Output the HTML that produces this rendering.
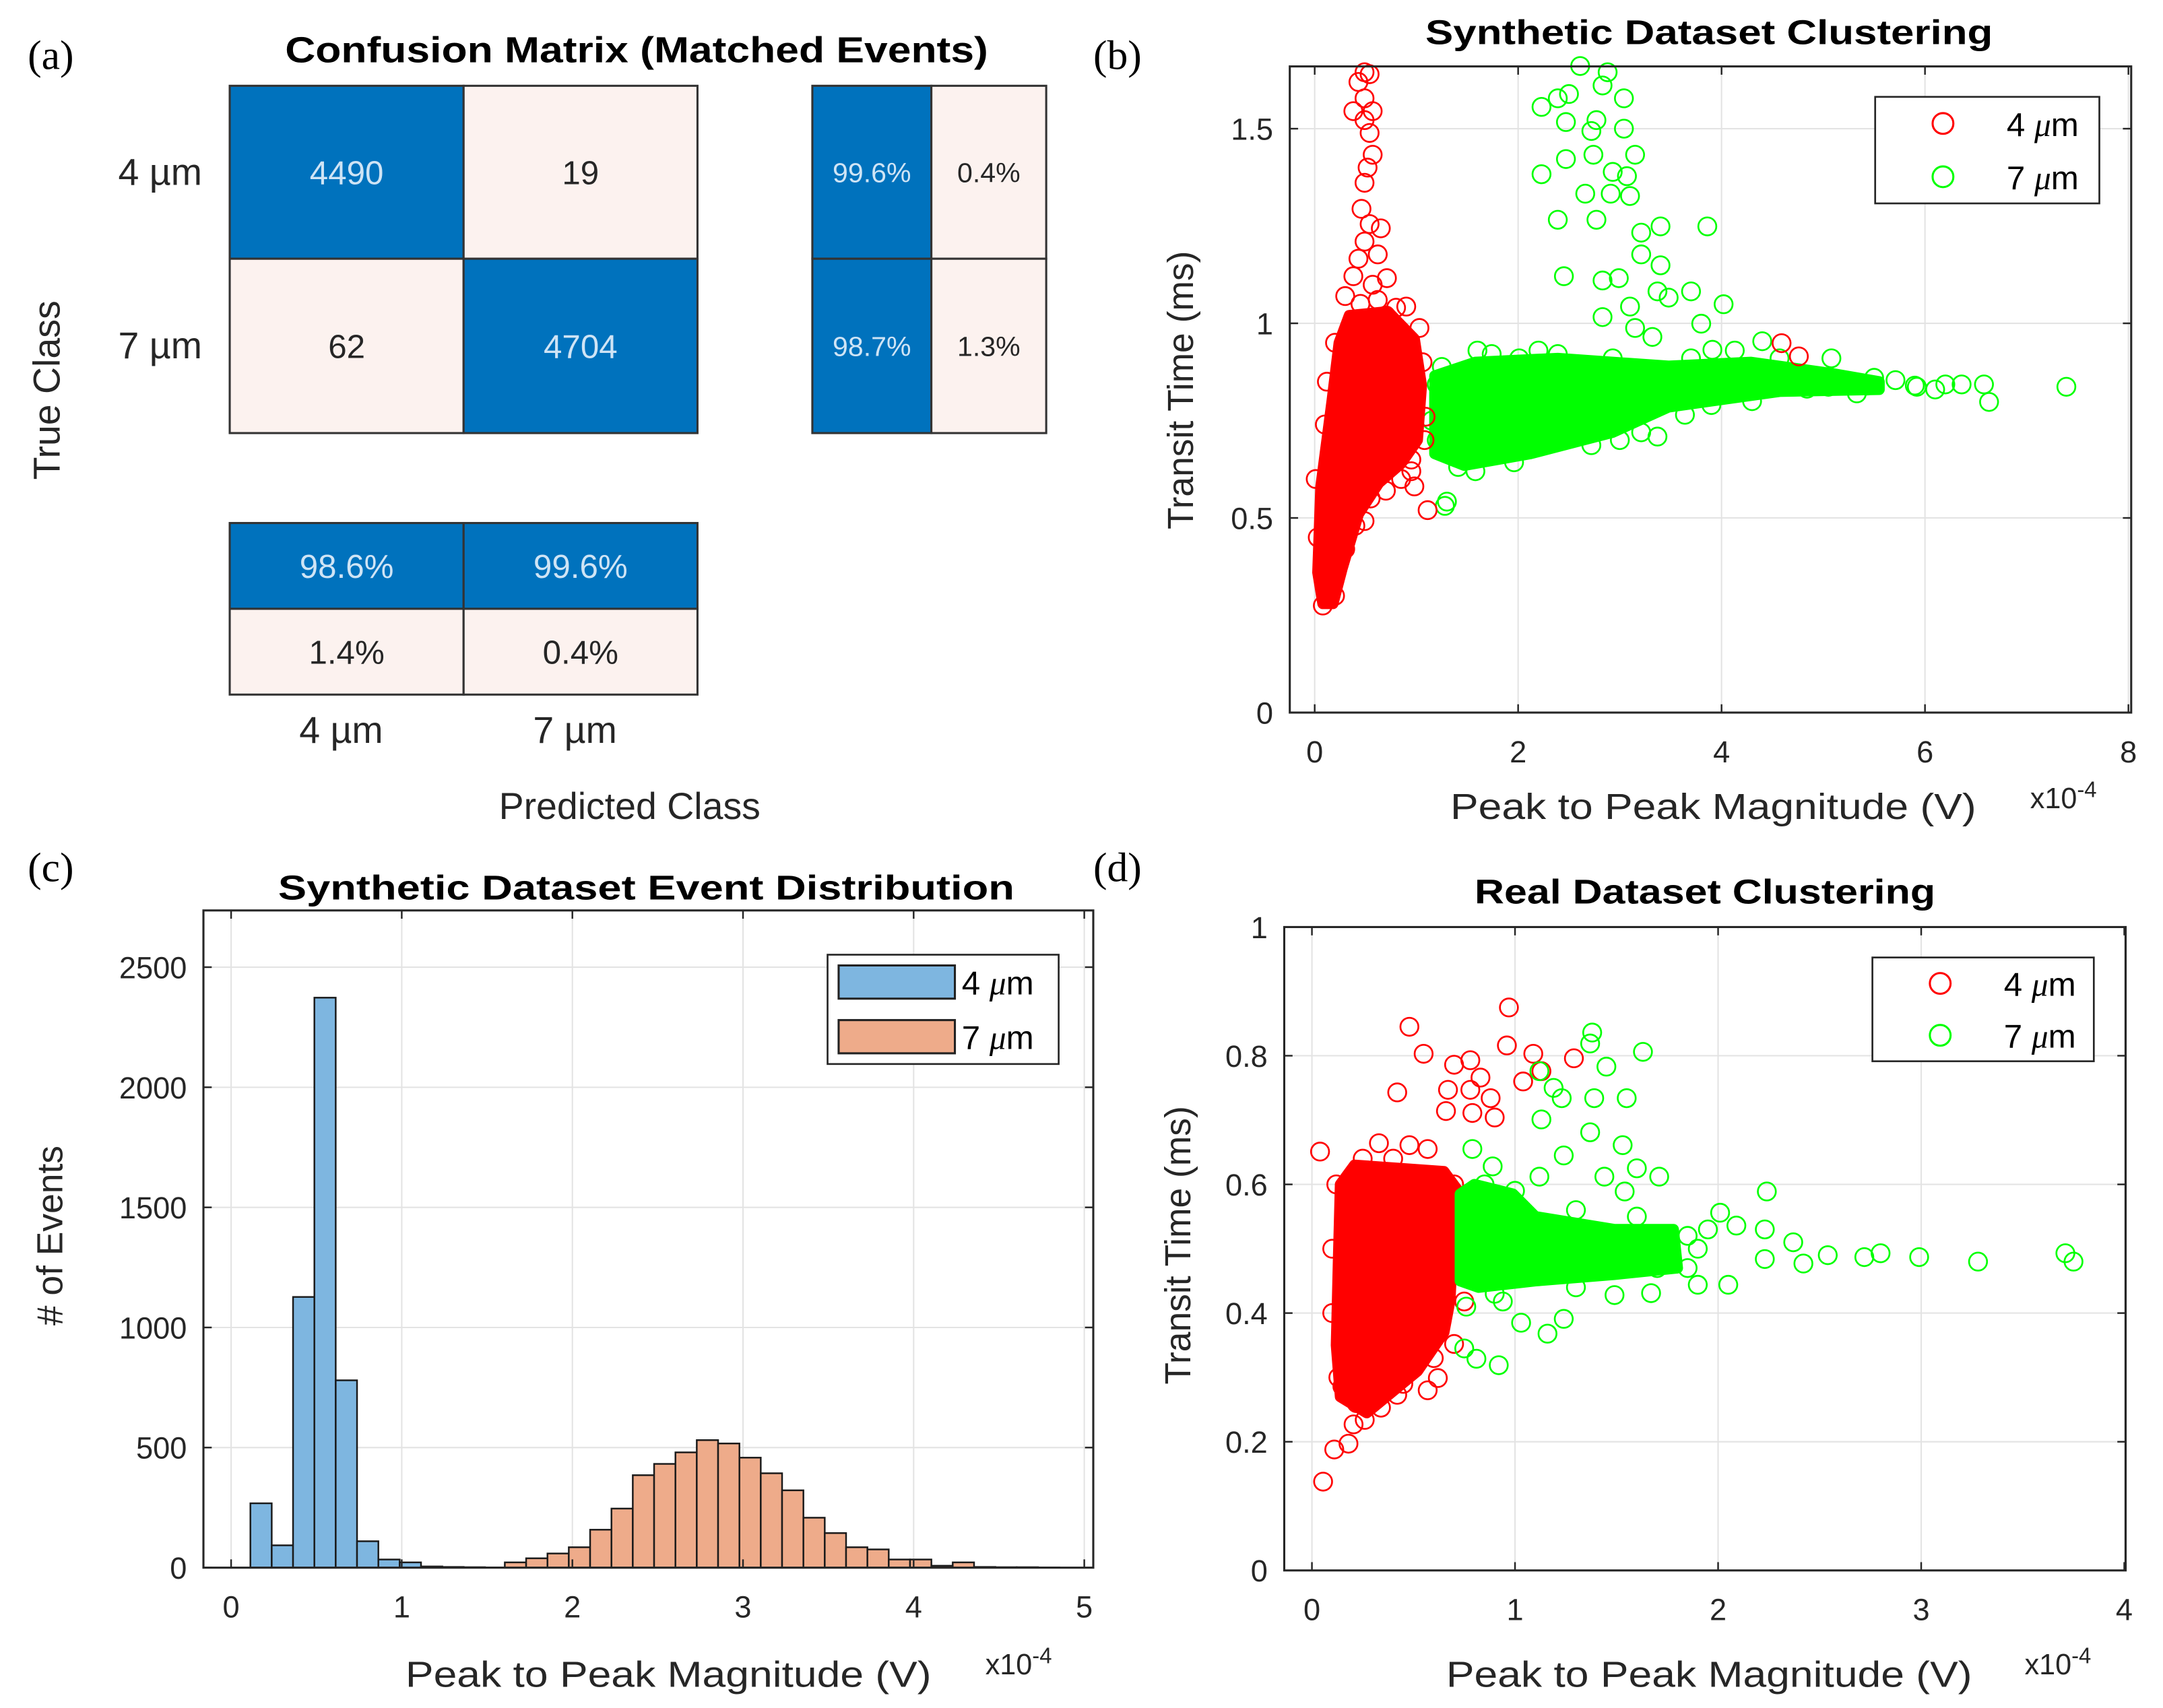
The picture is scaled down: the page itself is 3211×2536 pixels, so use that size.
<!DOCTYPE html>
<html><head><meta charset="utf-8"><style>
html,body{margin:0;padding:0;background:#fff}
svg{display:block}
text{font-family:"Liberation Sans",sans-serif}
.t{font-weight:bold}
.pl{font-family:"Liberation Serif",serif}
</style></head><body>
<svg id="fig" width="3211" height="2536" viewBox="0 0 3211 2536" xmlns="http://www.w3.org/2000/svg">
<g id="root" transform="scale(2.0544)"></g>
</svg>
<script>
// ---------- DATA ----------
const cmClasses=["4 µm","7 µm"];
const cmCounts=[[4490,19],[62,4704]];
const cmRowPct=[["99.6%","0.4%"],["98.7%","1.3%"]];
const cmColPct=[["98.6%","99.6%"],["1.4%","0.4%"]];

const bTicksX=[0,2,4,6,8];
const bTicksY=[0,0.5,1,1.5];
const bRedHull=[0.08,0.28, 0.03,0.36, 0.06,0.58, 0.17,0.80, 0.24,0.95, 0.34,1.02, 0.72,1.03, 0.98,0.96, 1.05,0.84, 1.01,0.70, 0.85,0.64, 0.63,0.59, 0.43,0.51, 0.27,0.37, 0.18,0.28];
const bRedPts=[0.49,1.645,0.54,1.64,0.43,1.62,0.49,1.578,0.38,1.545,0.57,1.545,0.49,1.522,0.54,1.489,0.57,1.433,0.52,1.40,0.49,1.361,0.46,1.294,0.54,1.255,0.65,1.244,0.49,1.21,0.62,1.177,0.43,1.166,0.38,1.121,0.71,1.116,0.57,1.099,0.90,1.043,1.03,0.988,0.98,0.798,0.92,0.709,0.95,0.62,0.98,0.581,1.11,0.52,0.49,0.492,0.08,0.275,0.11,0.308,4.59,0.949,4.76,0.915,0.30,1.07,0.62,1.06,1.06,0.90,1.09,0.76,0.03,0.45,0.01,0.60,0.10,0.74,0.70,1.02,0.85,0.60,0.55,0.55,0.30,0.42,0.20,0.30,0.45,1.05,0.80,1.04,1.08,0.70,0.95,0.65,0.12,0.85,0.20,0.95,0.70,0.57,0.40,0.48];
const bGreenHull=[1.18,0.865, 1.58,0.9, 2.39,0.91, 3.48,0.89, 4.29,0.9, 5.11,0.87, 5.55,0.85, 5.55,0.83, 4.57,0.825, 3.48,0.785, 2.93,0.72, 2.12,0.665, 1.47,0.635, 1.18,0.665];
const bGreenPts=[2.61,1.661,2.88,1.645,2.83,1.611,2.50,1.589,2.23,1.556,2.39,1.578,3.04,1.578,2.47,1.517,2.77,1.522,2.72,1.494,3.04,1.50,2.74,1.433,3.15,1.433,2.47,1.422,2.23,1.383,2.93,1.389,3.07,1.378,2.66,1.333,2.91,1.333,3.10,1.327,2.39,1.266,2.77,1.266,3.21,1.233,3.40,1.249,3.86,1.249,3.21,1.177,3.40,1.149,2.45,1.121,2.83,1.11,2.99,1.116,3.37,1.082,3.70,1.082,4.02,1.049,3.10,1.043,3.48,1.066,2.83,1.016,3.80,0.999,3.15,0.988,3.32,0.965,1.28,0.531,1.30,0.542,7.39,0.837,6.63,0.798,6.58,0.843,6.36,0.843,5.92,0.837,6.20,0.843,5.05,0.837,5.08,0.91,4.40,0.954,3.91,0.932,3.70,0.91,3.37,0.709,3.64,0.765,1.20,0.843,1.25,0.888,5.43,0.84,5.71,0.854,5.33,0.82,4.84,0.832,4.57,0.91,4.13,0.93,1.30,0.687,1.41,0.631,1.58,0.62,1.96,0.643,2.72,0.687,3.21,0.72,1.74,0.921,2.39,0.921,2.01,0.91,2.93,0.91,1.15,0.75,5.5,0.86,4.9,0.86,4.3,0.8,1.2,0.70,1.6,0.93,2.2,0.93,3.0,0.70,3.9,0.79,4.7,0.86,5.2,0.85,5.9,0.84,6.1,0.83];

const cTicksX=[0,1,2,3,4,5];
const cTicksY=[0,500,1000,1500,2000,2500];
const blueStart=0.113, blueWidth=0.125;
const blueCounts=[268,93,1127,2373,780,110,34,22,5,3,2,1];
const orangeStart=1.604, orangeWidth=0.125;
const orangeCounts=[22,39,59,85,158,246,385,432,480,531,517,458,393,322,208,144,85,76,34,34,8,22,3,2,2,1];

const dTicksX=[0,1,2,3,4];
const dTicksY=[0,0.2,0.4,0.6,0.8,1];
const dRedHull=[0.14,0.60, 0.21,0.63, 0.65,0.62, 0.72,0.59, 0.70,0.55, 0.68,0.42, 0.65,0.37, 0.52,0.31, 0.27,0.245, 0.14,0.27, 0.12,0.35, 0.13,0.48];
const dRedPts=[0.04,0.651,0.055,0.138,0.11,0.188,0.18,0.197,0.205,0.227,0.26,0.234,0.34,0.253,0.42,0.273,0.57,0.28,0.62,0.299,0.48,0.845,0.55,0.803,0.97,0.875,0.96,0.816,0.42,0.743,0.70,0.786,0.78,0.793,0.83,0.766,0.67,0.747,0.78,0.747,0.88,0.734,0.66,0.714,0.79,0.711,0.90,0.704,1.09,0.803,1.13,0.776,1.04,0.76,1.29,0.796,0.33,0.664,0.48,0.661,0.57,0.655,0.15,0.286,0.75,0.418,0.70,0.352,0.12,0.60,0.10,0.40,0.13,0.30,0.70,0.60,0.72,0.47,0.10,0.50,0.22,0.26,0.45,0.29,0.60,0.33,0.40,0.64,0.25,0.64];
const dGreenHull=[0.73,0.585, 0.80,0.60, 0.99,0.585, 1.10,0.55, 1.49,0.53, 1.78,0.53, 1.80,0.47, 1.49,0.46, 1.10,0.45, 0.82,0.44, 0.73,0.45];
const dGreenPts=[1.38,0.836,1.37,0.819,1.63,0.806,1.45,0.783,1.12,0.776,1.19,0.75,1.23,0.734,1.39,0.734,1.55,0.734,1.13,0.701,1.37,0.681,1.53,0.661,1.24,0.645,1.12,0.612,1.44,0.612,1.60,0.625,1.71,0.612,1.54,0.589,2.24,0.589,0.79,0.655,0.89,0.628,2.01,0.556,2.09,0.536,2.23,0.53,2.37,0.51,2.54,0.49,2.72,0.487,2.80,0.493,2.99,0.487,3.28,0.48,3.71,0.493,3.75,0.48,2.42,0.477,2.23,0.484,1.90,0.444,2.05,0.444,1.67,0.431,1.49,0.428,1.24,0.391,1.16,0.368,1.03,0.385,0.92,0.319,0.81,0.329,0.75,0.345,0.94,0.418,1.9,0.5,1.95,0.53,0.85,0.60,1.0,0.59,1.3,0.56,1.6,0.55,1.85,0.52,1.85,0.47,1.3,0.44,0.9,0.43,0.76,0.41,1.7,0.47];

// ---------- HELPERS ----------
const NS="http://www.w3.org/2000/svg";
const root=document.getElementById('root');
function mk(tag,attrs,parent){const e=document.createElementNS(NS,tag);for(const k in attrs)e.setAttribute(k,attrs[k]);(parent||root).appendChild(e);return e;}
function txt(s,attrs,parent){if(!attrs.fill)attrs.fill='#262626';const e=mk('text',attrs,parent);e.textContent=s;return e;}
function lin(d0,d1,r0,r1){return v=>r0+(v-d0)/(d1-d0)*(r1-r0);}

// ---------- PANEL LABELS ----------
[["(a)",20,50],["(b)",790,50],["(c)",20,637],["(d)",790,637]].forEach(p=>{
 const e=txt(p[0],{x:p[1],y:p[2],class:'pl','font-size':30,fill:'#000'});
 
 
});

// ---------- (a) CONFUSION MATRIX ----------
const ga=mk('g',{});


const BLUE="#0072bd", PALE="#fcf2ef";
let tt=txt("Confusion Matrix (Matched Events)",{x:460,y:45,'text-anchor':'middle',class:'t','font-size':26,fill:'#000',textLength:508,lengthAdjust:'spacingAndGlyphs'},ga);


function cell(x,y,w,h,blue,label,fs,parent,name){
 const r=mk('rect',{x:x,y:y,width:w,height:h,fill:blue?BLUE:PALE,stroke:'#333','stroke-width':1.5},parent);
 
 
 const t=txt(label,{x:x+w/2,y:y+h/2+fs*0.36,'text-anchor':'middle','font-size':fs,fill:blue?'#cfe4f5':'#262626'},parent);
 
 
}
const mx=[166,335,504], my=[62,187,313];
for(let i=0;i<2;i++)for(let j=0;j<2;j++)cell(mx[j],my[i],mx[j+1]-mx[j],my[i+1]-my[i],i===j,String(cmCounts[i][j]),24,ga,'cm-cell');
const rx=[587,673,756];
for(let i=0;i<2;i++)for(let j=0;j<2;j++)cell(rx[j],my[i],rx[j+1]-rx[j],my[i+1]-my[i],j===0,cmRowPct[i][j],20,ga,'row-summary-cell');
const cy=[378,440,502];
for(let i=0;i<2;i++)for(let j=0;j<2;j++)cell(mx[j],cy[i],mx[j+1]-mx[j],cy[i+1]-cy[i],i===0,cmColPct[i][j],24,ga,'column-summary-cell');
for(let i=0;i<2;i++){
 let e=txt(cmClasses[i],{x:146,y:(my[i]+my[i+1])/2+9,'text-anchor':'end','font-size':27},ga);
 
 
 e=txt(cmClasses[i],{x:(mx[i]+mx[i+1])/2-4,y:537,'text-anchor':'middle','font-size':27},ga);
 
 
}
tt=txt("True Class",{x:0,y:0,'text-anchor':'middle','font-size':27,transform:'translate(43,282) rotate(-90)'},ga);


tt=txt("Predicted Class",{x:455,y:592,'text-anchor':'middle','font-size':27},ga);



function axes2(o){
 const g=mk('g',{});
 
 
 const sx=lin(o.xd[0],o.xd[1],o.x0,o.x1), sy=lin(o.yd[0],o.yd[1],o.y0,o.y1);
 const grid=mk('g',{stroke:'#e3e3e3','stroke-width':1},g);
 
 
 o.tx.forEach(v=>{
  mk('line',{x1:sx(v),x2:sx(v),y1:o.T,y2:o.B},grid);
  const t=txt(String(v),{x:sx(v),y:o.B+36,'text-anchor':'middle','font-size':22},g);
  
  
 });
 o.ty.forEach(v=>{
  mk('line',{x1:o.L,x2:o.R,y1:sy(v),y2:sy(v)},grid);
  const t=txt(String(v),{x:o.L-12,y:sy(v)+8,'text-anchor':'end','font-size':22},g);
  
  
 });
 const plot=mk('g',{},g);
 
 
 const ticks=mk('g',{stroke:'#262626','stroke-width':1.2},g);
 o.tx.forEach(v=>{mk('line',{x1:sx(v),x2:sx(v),y1:o.B,y2:o.B-6},ticks);mk('line',{x1:sx(v),x2:sx(v),y1:o.T,y2:o.T+6},ticks);});
 o.ty.forEach(v=>{mk('line',{x1:o.L,x2:o.L+6,y1:sy(v),y2:sy(v)},ticks);mk('line',{x1:o.R,x2:o.R-6,y1:sy(v),y2:sy(v)},ticks);});
 const box=mk('rect',{x:o.L,y:o.T,width:o.R-o.L,height:o.B-o.T,fill:'none',stroke:'#262626','stroke-width':1.5},g);
 
 
 let t=txt(o.title,{x:o.tcx,y:o.ty0,'text-anchor':'middle',class:'t','font-size':25,fill:'#000',textLength:o.tlen,lengthAdjust:'spacingAndGlyphs'},g);
 
 
 t=txt(o.xlabel,{x:o.xlx,y:o.xly,'text-anchor':'middle','font-size':26,textLength:o.xllen,lengthAdjust:'spacingAndGlyphs'},g);
 
 
 t=txt(o.ylabel,{x:0,y:0,'text-anchor':'middle','font-size':26,transform:`translate(${o.ylx},${o.yly}) rotate(-90)`},g);
 
 
 t=txt("x10",{x:o.ex,y:o.ey,'font-size':21},g);
 const ts=mk('tspan',{dy:-8,'font-size':16},t);ts.textContent="-4";
 
 
 return {g,plot,sx,sy};
}
function scatter(ax,hull,pts,color,name){
 const ps=[];for(let i=0;i<hull.length;i+=2)ps.push(ax.sx(hull[i])+','+ax.sy(hull[i+1]));
 const h=mk('polygon',{points:ps.join(' '),fill:color,stroke:color,'stroke-width':8,'stroke-linejoin':'round'},ax.plot);
 
 
 for(let i=0;i<pts.length;i+=2){
  const c=mk('circle',{cx:ax.sx(pts[i]),cy:ax.sy(pts[i+1]),r:6.5,fill:'none',stroke:color,'stroke-width':1.3},ax.plot);
  
  
 }
}
function legend(x,y,w,h,entries){
 const g=mk('g',{});
 
 
 mk('rect',{x:x,y:y,width:w,height:h,fill:'#fff',stroke:'#262626','stroke-width':1.3},g);
 entries.forEach((e,i)=>{
  const yy=y+h*(i+0.5)/entries.length;
  const eg=mk('g',{},g);
  
  
  if(e.patch){mk('rect',{x:x+8,y:yy-12,width:84,height:24,fill:e.color,stroke:'#222','stroke-width':1.5},eg);}
  else mk('circle',{cx:x+49,cy:yy,r:7.5,fill:'none',stroke:e.color,'stroke-width':1.5},eg);
  const t=txt(e.num+" ",{x:e.patch?x+97:x+95,y:yy+9,'font-size':24,fill:'#000'},eg);
  const ts=mk('tspan',{'font-family':'Liberation Serif, serif','font-style':'italic'},t);ts.textContent="μ";
  const ts2=mk('tspan',{},t);ts2.textContent="m";
 });
}
// (b)
const B=axes2({name:'synthetic-clustering-chart',L:932,R:1540,T:48,B:515,xd:[0,8],x0:950,x1:1538,yd:[0,1.5],y0:515,y1:93,tx:bTicksX,ty:bTicksY,
 title:"Synthetic Dataset Clustering",tcx:1235,ty0:32,tlen:410,xlabel:"Peak to Peak Magnitude (V)",xlx:1238,xly:592,xllen:380,
 ylabel:"Transit Time (ms)",ylx:862,yly:282,ex:1467,ey:584});
scatter(B,bGreenHull,bGreenPts,'#00ff00','green-7um');
scatter(B,bRedHull,bRedPts,'#ff0000','red-4um');
legend(1355,70,162,77,[{num:'4',color:'#ff0000'},{num:'7',color:'#00ff00'}]);

// (c)
const C=axes2({name:'event-distribution-histogram',L:147,R:790,T:658,B:1133,xd:[0,5],x0:167,x1:783.5,yd:[0,2500],y0:1133,y1:699,tx:cTicksX,ty:cTicksY,
 title:"Synthetic Dataset Event Distribution",tcx:467,ty0:650,tlen:532,xlabel:"Peak to Peak Magnitude (V)",xlx:483,xly:1219,xllen:380,
 ylabel:"# of Events",ylx:45,yly:893,ex:712,ey:1210});
function bars(start,width,counts,color,name){
 counts.forEach((v,i)=>{
  const x0=C.sx(start+i*width),x1=C.sx(start+(i+1)*width),y=C.sy(v);
  const r=mk('rect',{x:x0,y:y,width:x1-x0,height:C.sy(0)-y,fill:color,stroke:'#1a1a1a','stroke-width':1.2},C.plot);
  
  
 });
}
bars(blueStart,blueWidth,blueCounts,'#7eb6e0','bar-4um');
bars(orangeStart,orangeWidth,orangeCounts,'#eeab8a','bar-7um');
legend(598,690,167,79,[{num:'4',color:'#7eb6e0',patch:1},{num:'7',color:'#eeab8a',patch:1}]);

// (d)
const D=axes2({name:'real-clustering-chart',L:928,R:1536,T:670,B:1135,xd:[0,4],x0:948,x1:1535,yd:[0,1],y0:1135,y1:670,tx:dTicksX,ty:dTicksY,
 title:"Real Dataset Clustering",tcx:1232,ty0:653,tlen:333,xlabel:"Peak to Peak Magnitude (V)",xlx:1235,xly:1219,xllen:380,
 ylabel:"Transit Time (ms)",ylx:860,yly:900,ex:1463,ey:1210});
scatter(D,dRedHull,dRedPts,'#ff0000','red-4um');
scatter(D,dGreenHull,dGreenPts,'#00ff00','green-7um');
legend(1353,692,160,75,[{num:'4',color:'#ff0000'},{num:'7',color:'#00ff00'}]);
</script>
</body></html>
